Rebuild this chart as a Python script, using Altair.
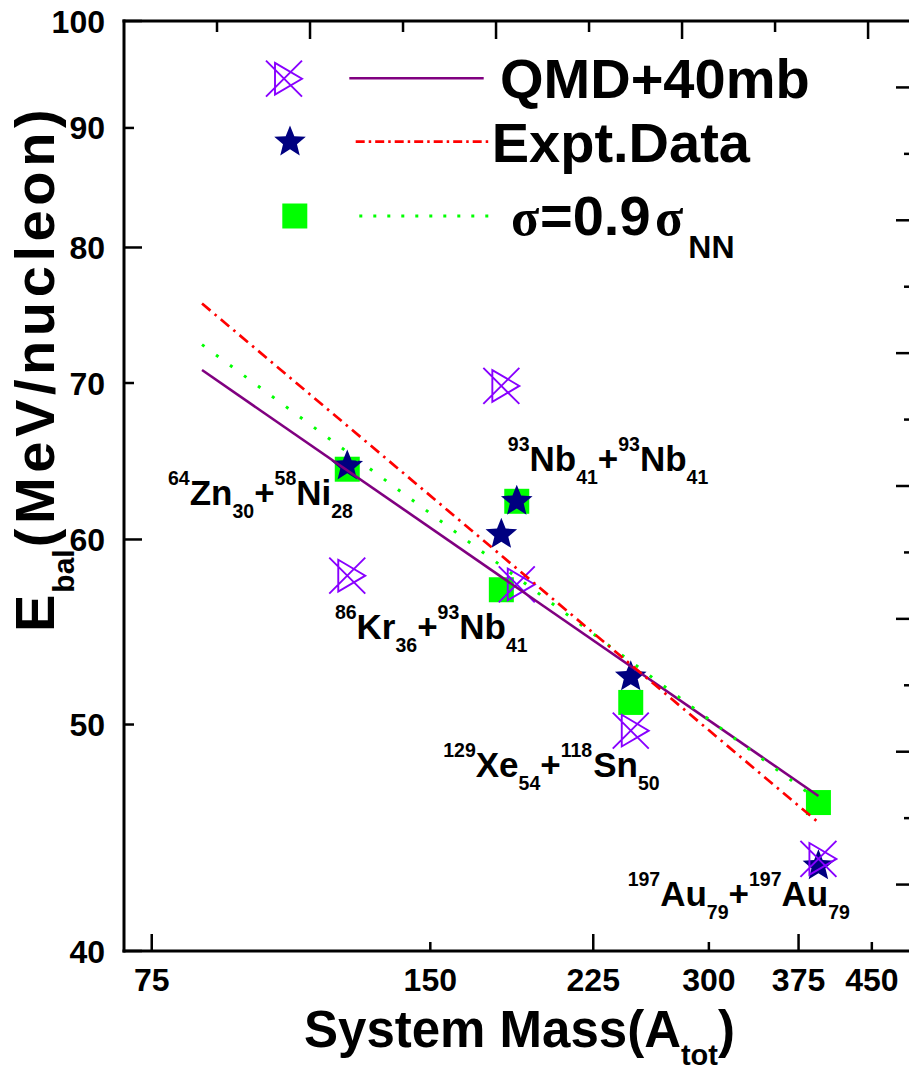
import altair as alt
import pandas as pd

# ---------------- data ----------------
systems = ["64Zn+58Ni", "86Kr+93Nb", "93Nb+93Nb", "129Xe+118Sn", "197Au+197Au"]
a_tot = [122, 179, 186, 247, 394]
e_qmd = [57.9, 69.8, 57.4, 49.7, 43.8]      # QMD+40mb (crossed triangles)
e_expt = [64.5, 60.3, 62.3, 52.4, 43.5]     # Expt. data (stars)
e_sig09 = [64.3, 57.1, 62.3, 51.1, 46.3]    # sigma = 0.9 sigma_NN (squares)

fit_a = [85, 394]
fit_qmd = [70.9, 46.6]
fit_expt = [75.7, 45.4]
fit_sig09 = [72.7, 46.4]

x_ticks = [75, 150, 225, 300, 375, 450]
y_ticks = [40, 50, 60, 70, 80, 90, 100]
top_ticks = [1, 2, 3, 4, 5, 6, 7, 8]          # linear helper ticks of the top frame (0..8.44)
right_ticks = list(range(1, 14))              # linear helper ticks of the right frame (0..14)

# reaction labels: segments (text, kind) and anchor (left, baseline) in data units
ann_segments = [
    [("64", "sup"), ("Zn", "base"), ("30", "sub"), ("+", "base"), ("58", "sup"), ("Ni", "base"), ("28", "sub")],
    [("93", "sup"), ("Nb", "base"), ("41", "sub"), ("+", "base"), ("93", "sup"), ("Nb", "base"), ("41", "sub")],
    [("86", "sup"), ("Kr", "base"), ("36", "sub"), ("+", "base"), ("93", "sup"), ("Nb", "base"), ("41", "sub")],
    [("129", "sup"), ("Xe", "base"), ("54", "sub"), ("+", "base"), ("118", "sup"), ("Sn", "base"), ("50", "sub")],
    [("197", "sup"), ("Au", "base"), ("79", "sub"), ("+", "base"), ("197", "sup"), ("Au", "base"), ("79", "sub")],
]
ann_x = [78.1, 181.9, 118.3, 154.9, 245.1]
ann_y = [62.05, 64.2, 54.4, 47.5, 41.8]

# ---------------- styling ----------------
SANS = "Liberation Sans"
SERIF = "Liberation Serif"
W, H = 785, 930
X_MIN, X_MAX = 70, 493.6
Y_MIN, Y_MAX = 40, 100
TOP_MAX, RIGHT_MAX = 8.44, 14
BASE_FS, SMALL_FS = 35, 19.5
SUP_DY, SUB_DY = -20, 13
TICK_FS = 32

CW = {c: 0.556 for c in "0123456789"}
CW.update({"+": 0.584, "Z": 0.611, "n": 0.611, "N": 0.722, "i": 0.278, "K": 0.722,
           "r": 0.389, "b": 0.611, "X": 0.667, "e": 0.556, "S": 0.667, "A": 0.722,
           "u": 0.611, "y": 0.556, "s": 0.556, "t": 0.333, "m": 0.889, "M": 0.833,
           "a": 0.556, "(": 0.333, ")": 0.333, " ": 0.278, "E": 0.667, "l": 0.278,
           "V": 0.667, "/": 0.278, "c": 0.556, "o": 0.611})


def tw(s, fs):
    return sum(CW.get(c, 0.556) for c in s) * fs


pts = pd.DataFrame({"a": a_tot, "qmd": e_qmd, "expt": e_expt, "sig": e_sig09, "sys": systems})
fits = pd.DataFrame({"a": fit_a, "qmd": fit_qmd, "expt": fit_expt, "sig": fit_sig09})
one = pd.DataFrame({"k": [0]})

xs = alt.Scale(type="log", domain=[X_MIN, X_MAX], nice=False)
ys = alt.Scale(type="log", domain=[Y_MIN, Y_MAX], nice=False)

STAR = ("M0,-1L0.26,-0.35L0.951,-0.309L0.42,0.14L0.588,0.809L0,0.44L-0.588,0.809"
        "L-0.42,0.14L-0.951,-0.309L-0.26,-0.35Z")
BOWTIE = "M-1,-1L1,1M-1,1L1,-1M-0.5,-0.88L1,0L-0.5,0.88Z"
VIOLET = "#8800ff"
NAVY = "#000080"
GREEN = "#00ff00"
PURPLE = "#800080"
RED = "#ff0000"
TW = 2.5


def X(f):
    return alt.X(f, scale=xs, axis=None, title=None)


def Y(f):
    return alt.Y(f, scale=ys, axis=None, title=None)


layers = []

# frame lines (left / bottom / top)
layers += [
    alt.Chart(one).mark_rule(color="black", strokeWidth=3).encode(
        x=alt.value(0), y=alt.value(-1.5), y2=alt.value(H + 1.5)),
    alt.Chart(one).mark_rule(color="black", strokeWidth=3).encode(
        x=alt.value(-1.5), x2=alt.value(W), y=alt.value(H)),
    alt.Chart(one).mark_rule(color="black", strokeWidth=3).encode(
        x=alt.value(-1.5), x2=alt.value(W), y=alt.value(0)),
]

# data marks
layers.append(alt.Chart(pts).mark_point(shape="square", filled=True, size=625, color=GREEN, opacity=1).encode(
    x=X("a:Q"), y=Y("sig:Q")))
layers.append(alt.Chart(pts).mark_point(shape=STAR, filled=True, size=1102, color=NAVY, opacity=1).encode(
    x=X("a:Q"), y=Y("expt:Q")))
layers.append(alt.Chart(pts).mark_point(shape=BOWTIE, filled=False, size=1296, color=VIOLET,
                                        strokeWidth=1.9, opacity=1).encode(x=X("a:Q"), y=Y("qmd:Q")))
layers.append(alt.Chart(fits).mark_line(color=PURPLE, strokeWidth=2.6).encode(x=X("a:Q"), y=Y("qmd:Q")))
layers.append(alt.Chart(fits).mark_line(color=GREEN, strokeWidth=3, strokeDash=[3, 14.4]).encode(
    x=X("a:Q"), y=Y("sig:Q")))
layers.append(alt.Chart(fits).mark_line(color=RED, strokeWidth=2.7, strokeDash=[11, 5.5, 2.5, 5.5]).encode(
    x=X("a:Q"), y=Y("expt:Q")))

# reaction labels, segment by segment (superscripts / subscripts)
for segs, ax, ay in zip(ann_segments, ann_x, ann_y):
    anchor = pd.DataFrame({"ax": [ax], "ay": [ay]})
    off = 0.0
    for t, kind in segs:
        fs = BASE_FS if kind == "base" else SMALL_FS
        dy = 0 if kind == "base" else (SUP_DY if kind == "sup" else SUB_DY)
        layers.append(alt.Chart(anchor).mark_text(
            align="left", baseline="alphabetic", font=SANS, fontWeight="bold", color="black",
            fontSize=fs, dx=round(off, 2), dy=dy).encode(x=X("ax:Q"), y=Y("ay:Q"), text=alt.value(t)))
        off += tw(t, fs)

# tick labels (drawn through the scales)
xt = pd.DataFrame({"v": x_ticks, "major": [i % 2 == 0 for i in range(len(x_ticks))]})
yt = pd.DataFrame({"v": y_ticks, "major": [i % 2 == 0 for i in range(len(y_ticks))]})
layers += [
    alt.Chart(xt).mark_text(align="center", baseline="top", font=SANS, fontWeight="bold",
                            fontSize=TICK_FS, color="black").encode(
        x=X("v:Q"), y=alt.value(H + 14.5), text=alt.Text("v:Q", format="d")),
    alt.Chart(yt).mark_text(align="right", baseline="middle", font=SANS, fontWeight="bold",
                            fontSize=TICK_FS, color="black", dy=1.5).encode(
        y=Y("v:Q"), x=alt.value(-19), text=alt.Text("v:Q", format="d")),
]

# inward ticks: bottom / left on the log scales
layers += [
    alt.Chart(xt[xt.major]).mark_rule(color="black", strokeWidth=TW).encode(
        x=X("v:Q"), y=alt.value(H), y2=alt.value(H - 17)),
    alt.Chart(xt[~xt.major]).mark_rule(color="black", strokeWidth=TW).encode(
        x=X("v:Q"), y=alt.value(H), y2=alt.value(H - 9)),
    alt.Chart(yt[yt.major]).mark_rule(color="black", strokeWidth=TW).encode(
        y=Y("v:Q"), x=alt.value(0), x2=alt.value(18)),
    alt.Chart(yt[~yt.major]).mark_rule(color="black", strokeWidth=TW).encode(
        y=Y("v:Q"), x=alt.value(0), x2=alt.value(10)),
]

# top frame: evenly spaced (linear) inward ticks
tt = pd.DataFrame({"v": top_ticks})
top_base = alt.Chart(tt).transform_calculate(
    xv=f"{X_MIN} * pow({X_MAX / X_MIN}, datum.v / {TOP_MAX})", major="datum.v % 2 == 0")
layers += [
    top_base.transform_filter("datum.major").mark_rule(color="black", strokeWidth=TW).encode(
        x=X("xv:Q"), y=alt.value(0), y2=alt.value(18)),
    top_base.transform_filter("!datum.major").mark_rule(color="black", strokeWidth=TW).encode(
        x=X("xv:Q"), y=alt.value(0), y2=alt.value(11)),
]

# right frame: evenly spaced (linear) inward ticks
rt = pd.DataFrame({"v": right_ticks})
right_base = alt.Chart(rt).transform_calculate(
    yv=f"{Y_MIN} * pow({Y_MAX / Y_MIN}, datum.v / {RIGHT_MAX})", major="datum.v % 2 == 1")
layers += [
    right_base.transform_filter("datum.major").mark_rule(color="black", strokeWidth=TW).encode(
        y=Y("yv:Q"), x=alt.value(W), x2=alt.value(W - 13)),
    right_base.transform_filter("!datum.major").mark_rule(color="black", strokeWidth=TW).encode(
        y=Y("yv:Q"), x=alt.value(W), x2=alt.value(W - 5)),
]


def txt(s, x, y, fs, font=SANS, weight="bold", angle=None):
    kw = dict(align="left", baseline="alphabetic", font=font, fontWeight=weight,
              fontSize=fs, color="black")
    if angle is not None:
        kw["angle"] = angle
    return alt.Chart(one).mark_text(**kw).encode(x=alt.value(x), y=alt.value(y), text=alt.value(s))


# legend (drawn inside the frame)
layers += [
    alt.Chart(one).mark_point(shape=BOWTIE, filled=False, size=1296, color=VIOLET, strokeWidth=1.9,
                              opacity=1).encode(x=alt.value(160), y=alt.value(57.7)),
    alt.Chart(one).mark_point(shape=STAR, filled=True, size=1102, color=NAVY, opacity=1).encode(
        x=alt.value(166), y=alt.value(121)),
    alt.Chart(one).mark_point(shape="square", filled=True, size=625, color=GREEN, opacity=1).encode(
        x=alt.value(170.8), y=alt.value(195)),
    alt.Chart(one).mark_rule(color=PURPLE, strokeWidth=2.6).encode(
        x=alt.value(225.3), x2=alt.value(359.7), y=alt.value(57.3)),
    alt.Chart(one).mark_rule(color=RED, strokeWidth=2.7, strokeDash=[9, 4, 2.5, 4]).encode(
        x=alt.value(231.7), x2=alt.value(366), y=alt.value(120.7)),
    alt.Chart(one).mark_rule(color=GREEN, strokeWidth=3, strokeDash=[3, 11]).encode(
        x=alt.value(235.3), x2=alt.value(364.3), y=alt.value(195)),
    txt("QMD+40mb", 376, 77.3, 56),
    txt("Expt.Data", 367.7, 140.7, 56),
    txt("σ", 387, 214, 52, font=SERIF),
    txt("=0.9", 416, 214, 56),
    txt("σ", 531, 214, 52, font=SERIF),
    txt("NN", 564.3, 237.3, 32),
]

# x-axis title with subscript
XT_FS, XT_SUB = 51, 29
xt_x0, xt_y0 = 180, 1025.7
layers += [
    txt("System Mass(A", xt_x0, xt_y0, XT_FS),
    txt("tot", xt_x0 + tw("System Mass(A", XT_FS), xt_y0 + 18, XT_SUB),
    txt(")", xt_x0 + tw("System Mass(A", XT_FS) + tw("tot", XT_SUB), xt_y0, XT_FS),
]

# y-axis title (rotated), letters slightly spaced like the reference
YT_FS, YT_SUB = 56, 30
yt_x0, yt_y0 = -70, 611
YT_GAP = 4.6
layers += [
    txt("E", yt_x0, yt_y0, YT_FS, angle=270),
    txt("bal", yt_x0 + 20, yt_y0 - tw("E", YT_FS) - 2, YT_SUB, angle=270),
]
pos = yt_y0 - tw("E", YT_FS) - 2 - tw("bal", YT_SUB) - 2
for ch in "(MeV/nucleon)":
    layers.append(txt(ch, yt_x0, pos, YT_FS, angle=270))
    pos -= tw(ch, YT_FS) + YT_GAP

chart = alt.layer(*layers).properties(
    width=W, height=H,
    padding={"left": 124, "top": 21, "right": 0, "bottom": 120},
    autosize=alt.AutoSizeParams(type="none"),
    background="white",
).configure_view(stroke=None)

chart.save("out.html", embed_options={"renderer": "svg", "actions": False})
